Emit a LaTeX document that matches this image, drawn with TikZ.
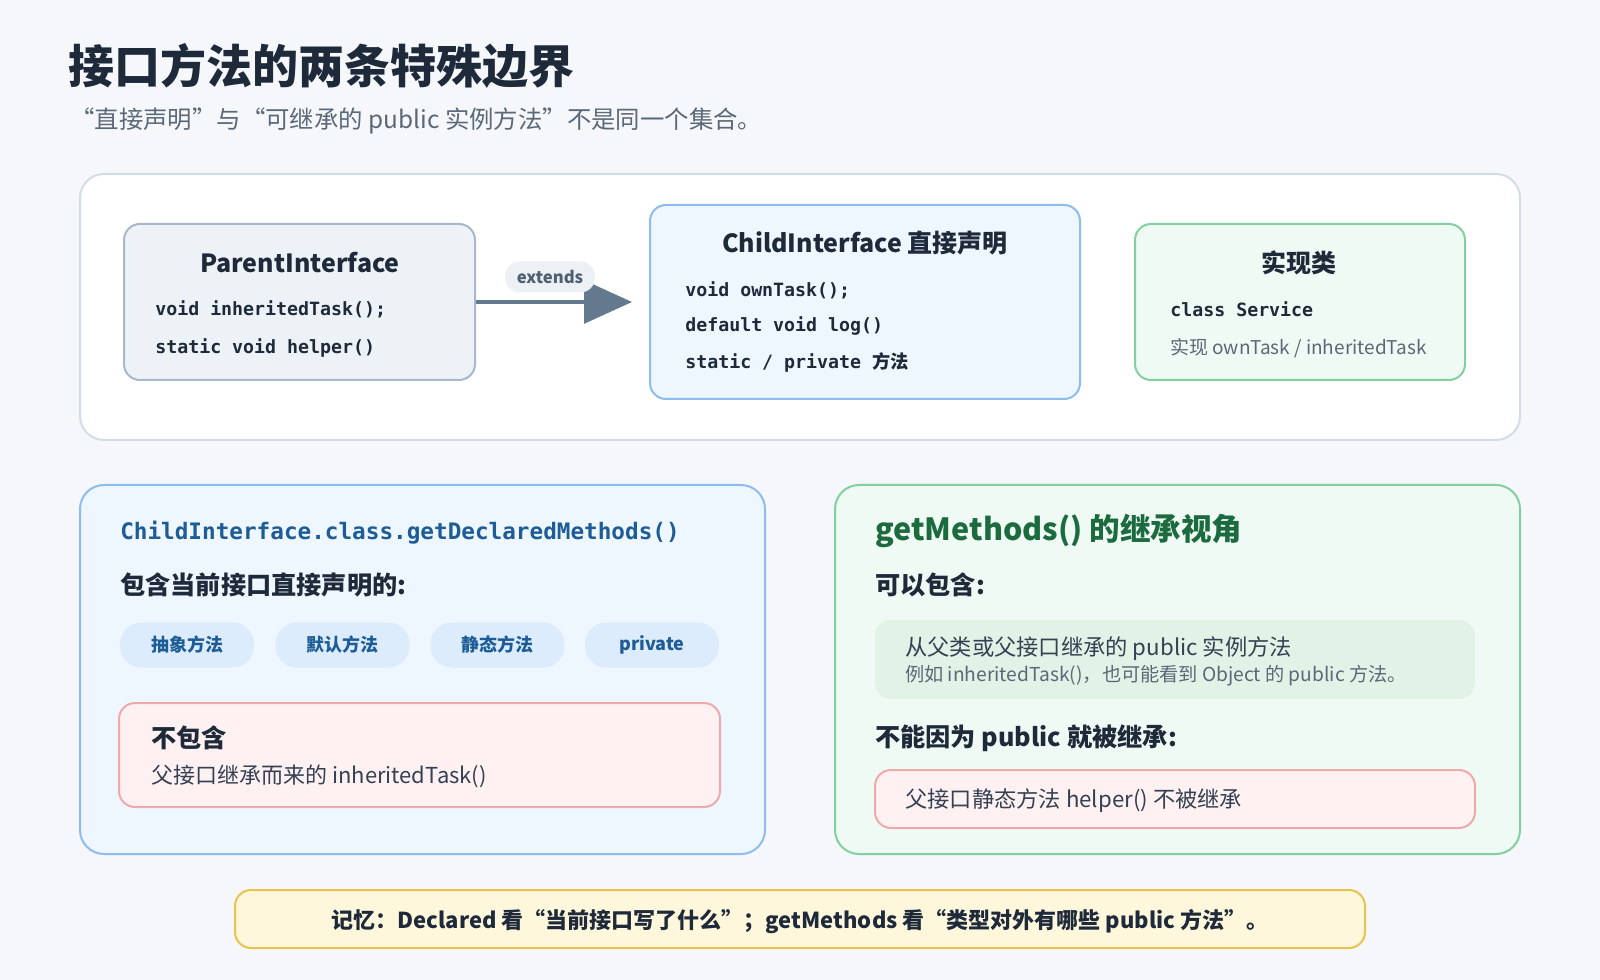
\documentclass[tikz,border=0pt]{standalone}
\usepackage{fontspec}
\setmainfont{Noto Sans CJK SC}
\newfontfamily\monof{DejaVu Sans Mono}
\usetikzlibrary{arrows.meta,fit}
\definecolor{bg}{HTML}{F5F7FB}
\definecolor{ink}{HTML}{1E2A3A}
\definecolor{gray}{HTML}{5B6878}
\definecolor{panelline}{HTML}{D3DCE6}
\definecolor{parentfill}{HTML}{EDF2F7}
\definecolor{parentline}{HTML}{A8B8CA}
\definecolor{bluefill}{HTML}{EEF6FF}
\definecolor{blueline}{HTML}{8CBDEC}
\definecolor{greenfill}{HTML}{F0FAF4}
\definecolor{greenline}{HTML}{82CFA0}
\definecolor{arrowc}{HTML}{637A8E}
\definecolor{pillfill}{HTML}{DCECFD}
\definecolor{bluetext}{HTML}{1D5C96}
\definecolor{redfill}{HTML}{FFF1F2}
\definecolor{redline}{HTML}{EEAAAA}
\definecolor{greeninner}{HTML}{E0F3E6}
\definecolor{greentitle}{HTML}{1C6B3F}
\definecolor{yellowfill}{HTML}{FFF7DC}
\definecolor{yellowline}{HTML}{E9C34F}
\definecolor{extfill}{HTML}{EDF1F5}
\definecolor{exttext}{HTML}{4F6072}
\definecolor{body}{HTML}{334152}
\newcommand\myfs[1]{\fontsize{#1}{#1}\selectfont}
\begin{document}
\begin{tikzpicture}[x=0.75pt,y=-0.75pt,
  panel/.style={draw, line width=1.5pt, rounded corners=18pt, inner sep=0pt},
  box/.style={draw, line width=1.5pt, rounded corners=12pt, inner sep=0pt},
  txt/.style={inner sep=0pt, anchor=west, text=ink},
  ctxt/.style={inner sep=0pt, text=ink},
  code/.style={txt, font=\monof\bfseries\myfs{13.7pt}},
  boxtitle/.style={ctxt, font=\bfseries\myfs{18.75pt}},
  head/.style={txt, font=\bfseries\myfs{18.9pt}},
  pill/.style={fill=pillfill, rounded corners=16pt, minimum width=100.5pt, minimum height=33.75pt, inner sep=0pt, text=bluetext, font=\bfseries\myfs{13.5pt}},
  arr/.style={draw=arrowc, line width=3pt, -{Triangle[length=36pt,width=32pt]}, shorten >=12.75pt}
]
\useasboundingbox[fill=bg] (0,0) rectangle (1600,980);

% title
\node[txt, font=\bfseries\myfs{34.5pt}] (title) at (68,66) {接口方法的两条特殊边界};
\node[txt, text=gray, font=\myfs{18.3pt}] (subtitle) at (70,121) {“直接声明”与“可继承的 public 实例方法”不是同一个集合。};

% top panel
\node[panel, draw=panelline, fill=white, fit={(80,174) (1520,440)}] (top) {};

\node[box, draw=parentline, fill=parentfill, fit={(124,224) (475,380)}] (parent) {};
\node[boxtitle] (ptitle) at (300,263) {ParentInterface};
\node[code] (p1) at (155,309) {void inheritedTask();};
\node[code] (p2) at (155,348) {static void helper()};

\node[box, draw=blueline, fill=bluefill, fit={(650,205) (1080,399)}] (child) {};
\node[boxtitle] (ctitle) at (865,243) {ChildInterface 直接声明};
\node[code] (c1) at (685,290) {void ownTask();};
\node[code] (c2) at (685,326) {default void log()};
\node[code] (c3) at (685,362) {static / private {\rmfamily 方法}};

\node[box, draw=greenline, fill=greenfill, fit={(1135,224) (1465,380)}] (impl) {};
\node[boxtitle] (ititle) at (1299,263) {实现类};
\node[code] (i1) at (1170,309) {class Service};
\node[txt, text=gray, font=\myfs{14.25pt}] (i2) at (1170,348) {实现 ownTask / inheritedTask};

\draw[arr] (parent.east) -- (child.west);
\node[fill=extfill, rounded corners=11pt, minimum width=67.5pt, minimum height=23.25pt, inner sep=0pt, text=exttext, font=\bfseries\myfs{12.5pt}] (ext) at (550,277) {extends};

% lower left panel
\node[panel, draw=blueline, fill=bluefill, fit={(80,485) (765,854)}] (left) {};
\node[txt, text=bluetext, font=\monof\bfseries\myfs{17pt}] (l1) at (120,533) {ChildInterface.class.getDeclaredMethods()};
\node[head] (l2) at (120,585) {包含当前接口直接声明的:};
\node[pill] (pa) at (187,645) {抽象方法};
\node[pill] (pb) at (342.5,645) {默认方法};
\node[pill] (pc) at (497.5,645) {静态方法};
\node[pill] (pd) at (652,645) {private};
\node[box, draw=redline, fill=redfill, fit={(119,703) (720,807)}] (lred) {};
\node[head] (lr1) at (151,738) {不包含};
\node[txt, text=body, font=\myfs{16.5pt}] (lr2) at (151,776) {父接口继承而来的 inheritedTask()};

% lower right panel
\node[panel, draw=greenline, fill=greenfill, fit={(835,485) (1520,854)}] (right) {};
\node[txt, text=greentitle, font=\bfseries\myfs{22.9pt}] (r1) at (875,531) {getMethods() 的继承视角};
\node[head] (r2) at (875,585) {可以包含:};
\node[fill=greeninner, rounded corners=12pt, inner sep=0pt, fit={(875,620) (1475,699)}] (rgreen) {};
\node[txt, text=body, font=\myfs{16.7pt}] (rg1) at (905,649) {从父类或父接口继承的 public 实例方法};
\node[txt, text=gray, font=\myfs{14.4pt}] (rg2) at (905,676) {例如 inheritedTask()，也可能看到 Object 的 public 方法。};
\node[head] (r3) at (875,738) {不能因为 public 就被继承:};
\node[box, draw=redline, fill=redfill, fit={(875,770) (1475,828)}] (rred) {};
\node[txt, text=body, font=\myfs{16.7pt}] (rr1) at (905,801) {父接口静态方法 helper() 不被继承};

% bottom note
\node[box, draw=yellowline, fill=yellowfill, fit={(235,890) (1365,948)}] (note) {};
\node[ctxt, font=\bfseries\myfs{16.5pt}] (notetext) at (800,922) {记忆：Declared 看“当前接口写了什么”；getMethods 看“类型对外有哪些 public 方法”。};
\end{tikzpicture}
\end{document}
